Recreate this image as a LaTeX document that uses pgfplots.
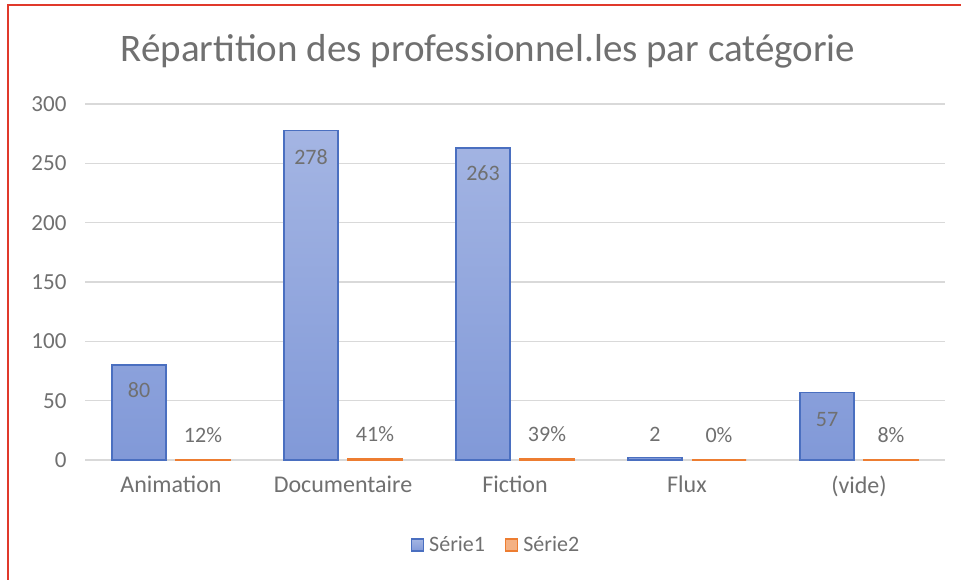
\documentclass[border=0pt]{standalone}
\usepackage{fontspec}
\setmainfont{Carlito}
\usepackage{pgfplots}
\usepackage{pgfplotstable}
\pgfplotsset{compat=1.18}
\definecolor{txt}{HTML}{707070}
\definecolor{gridc}{HTML}{D9D9D9}
\definecolor{blueB}{HTML}{4A6FC0}
\definecolor{blueT}{HTML}{A4B5E3}
\definecolor{blueBot}{HTML}{8199D8}
\definecolor{blueF}{HTML}{8EA6DC}
\definecolor{orangeB}{HTML}{ED7D31}
\definecolor{orangeF}{HTML}{F4B183}
\definecolor{redb}{HTML}{E0392B}

\pgfplotstableread{
x y lab off
0 80 80 -25
1 278 278 -27
2 263 263 -25
3 2 2 23
4 57 57 -27
}\serieone
\pgfplotstableread{
x y lab off
0 0.12 12\% 25
1 0.41 41\% 25
2 0.39 39\% 25
3 0 0\% 25
4 0.08 8\% 25
}\serietwo

\begin{document}
\begin{tikzpicture}[x=1pt,y=1pt]
\path[use as bounding box, fill=white] (0,0) rectangle (961,580);
\draw[redb, line width=2.5pt] (8,0) -- (8,575) -- (961,575);
\node[text=txt, font=\fontsize{39}{44}\selectfont] at (488,529) {Répartition des professionnel.les par catégorie};
\begin{axis}[
  at={(85pt,120pt)}, anchor=south west,
  scale only axis, width=860pt, height=356pt,
  xmin=-0.5, xmax=4.5, ymin=0, ymax=300,
  ytick={0,50,...,300},
  xtick={0,...,4},
  xticklabels={Animation,Documentaire,Fiction,Flux,(vide)},
  ymajorgrids, grid style={draw=gridc, line width=1.2pt},
  axis line style={draw=none},
  major tick length=0pt,
  tick label style={text=txt, font=\fontsize{23}{25}\selectfont},
  xticklabel style={font=\fontsize{24}{26}\selectfont, yshift=-12pt},
  /pgf/number format/assume math mode=true,
  yticklabel style={xshift=-15pt},
  ybar=10pt, bar width=54pt,
  clip=false,
  legend style={at={(0.478,-0.239)}, anchor=center, draw=none, fill=none,
    legend columns=2, font=\fontsize{22}{24}\selectfont, text=txt,
    /tikz/every odd column/.append style={column sep=3pt},
    /tikz/every even column/.append style={column sep=18pt}},
  legend image code/.code={\draw[#1, line width=1.2pt] (0pt,-6pt) rectangle (12pt,6pt);},
  nodes near coords,
  point meta=explicit symbolic,
  visualization depends on={\thisrow{off} \as \off},
  every node near coord/.append style={anchor=center, yshift=\off pt, text=txt,
    font=\fontsize{22}{24}\selectfont},
]
\addplot[draw=blueB, line width=1.2pt, top color=blueT, bottom color=blueBot]
  table[x=x, y=y, meta=lab] {\serieone};
\addlegendentry{Série1}
\addplot[draw=orangeB, line width=2.5pt, fill=orangeF]
  table[x=x, y=y, meta=lab] {\serietwo};
\addlegendentry{Série2}
\end{axis}
\end{tikzpicture}
\end{document}
